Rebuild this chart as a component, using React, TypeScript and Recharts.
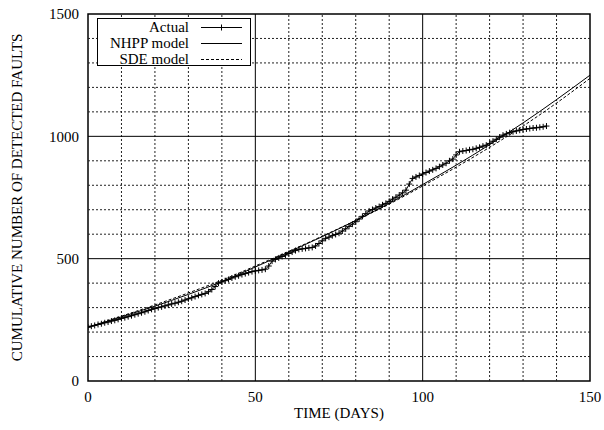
import React from 'react';
import {
  ComposedChart,
  Line,
  XAxis,
  YAxis,
  ReferenceLine,
  ReferenceArea,
  Legend,
} from 'recharts';

// Observed cumulative detected faults, one value per day starting at day 0
const actualValues: number[] = [
  220, 224, 227, 231, 234, 238, 241, 245, 248, 252,
  256, 259, 263, 267, 271, 275, 279, 283, 288, 293,
  296, 300, 303, 307, 311, 315, 318, 322, 326, 331,
  336, 340, 345, 350, 354, 358, 365, 374, 386, 400,
  405, 410, 415, 421, 426, 430, 435, 439, 443, 447,
  450, 452, 454, 457, 470, 490, 497, 503, 509, 515,
  521, 527, 533, 538, 540, 542, 544, 546, 552, 562,
  573, 583, 588, 594, 599, 604, 613, 622, 632, 641,
  651, 662, 673, 684, 695, 701, 707, 713, 720, 726,
  734, 743, 751, 760, 769, 780, 805, 828, 834, 840,
  846, 852, 858, 863, 869, 876, 883, 890, 900, 907,
  924, 937, 940, 942, 945, 947, 951, 955, 960, 964,
  971, 980, 988, 997, 1005, 1010, 1015, 1019, 1022, 1025,
  1028, 1030, 1032, 1034, 1035, 1037, 1039, 1042,
];

const modelDays: number[] = [0, 10, 20, 30, 40, 50, 60, 70, 80, 90, 100, 110, 120, 130, 140, 150];
const nhppValues: number[] = [220, 262, 306, 354, 406, 466, 527, 590, 656, 726, 803, 882, 966, 1055, 1150, 1250];
const sdeValues: number[] = [220, 265, 311, 360, 412, 470, 530, 592, 656, 723, 797, 874, 955, 1042, 1136, 1237];

const xTicks: number[] = [0, 50, 100, 150];
const yTicks: number[] = [0, 500, 1000, 1500];
const xMinorGrid: number[] = [10, 20, 30, 40, 60, 70, 80, 90, 110, 120, 130, 140];
const yMinorGrid: number[] = [100, 200, 300, 400, 600, 700, 800, 900, 1100, 1200, 1300, 1400];
const xMajorGrid: number[] = [50, 100];
const yMajorGrid: number[] = [500, 1000];

const seriesNames = ['Actual', 'NHPP model', 'SDE model'];

const actualData = actualValues.map((v, i) => ({ t: i, v }));
const nhppData = modelDays.map((t, i) => ({ t, v: nhppValues[i] }));
const sdeData = modelDays.map((t, i) => ({ t, v: sdeValues[i] }));

const FONT = "'Liberation Serif', 'Times New Roman', 'DejaVu Serif', serif";

const PlusDot = (props: any) => {
  const { cx, cy, index } = props;
  if (cx == null || cy == null) return <g key={`d${index}`} />;
  return (
    <path
      key={`d${index}`}
      d={`M${cx - 3},${cy}h6M${cx},${cy - 3}v6`}
      stroke="#000"
      strokeWidth={1}
      fill="none"
    />
  );
};

const LegendBox = () => {
  const rows = [
    { name: seriesNames[0], dash: undefined, plus: true },
    { name: seriesNames[1], dash: undefined, plus: false },
    { name: seriesNames[2], dash: '3 2', plus: false },
  ];
  return (
    <div
      style={{
        width: 152,
        height: 46,
        border: '1px solid #000',
        background: '#fff',
        fontFamily: FONT,
        fontSize: 15,
        color: '#000',
        boxSizing: 'content-box',
      }}
    >
      {rows.map((r, i) => (
        <div key={i} style={{ display: 'flex', alignItems: 'center', height: 16, lineHeight: '16px' }}>
          <span style={{ width: 91, textAlign: 'right', display: 'inline-block' }}>{r.name}</span>
          <svg width={61} height={16} style={{ display: 'block' }}>
            <line x1={12} x2={53} y1={8.5} y2={8.5} stroke="#000" strokeWidth={1} strokeDasharray={r.dash} />
            {r.plus && <path d="M32.5,5.5v6M29.5,8.5h6" stroke="#000" strokeWidth={1} />}
          </svg>
        </div>
      ))}
    </div>
  );
};

export default function App() {
  return (
    <div style={{ position: 'absolute', left: 0, top: 0, width: 604, height: 430, background: '#fff' }}>
      <ComposedChart
        width={604}
        height={430}
        margin={{ top: 14, right: 14, left: 0, bottom: 0 }}
      >
        <XAxis
          type="number"
          dataKey="t"
          domain={[0, 150]}
          ticks={xTicks}
          allowDataOverflow
          height={49}
          tickSize={0}
          tickMargin={10}
          axisLine={false}
          tickLine={false}
          tick={{ fill: '#000', fontFamily: FONT, fontSize: 15 }}
          label={{
            content: (p: any) => {
              const vb = p.viewBox;
              return (
                <text
                  x={vb.x + vb.width / 2}
                  y={vb.y + 37}
                  textAnchor="middle"
                  fontFamily={FONT}
                  fontSize={15}
                  fill="#000"
                >
                  TIME (DAYS)
                </text>
              );
            },
          }}
        />
        <YAxis
          type="number"
          dataKey="v"
          domain={[0, 1500]}
          ticks={yTicks}
          allowDataOverflow
          width={88}
          tickSize={0}
          tickMargin={9}
          axisLine={false}
          tickLine={false}
          tick={{ fill: '#000', fontFamily: FONT, fontSize: 15 }}
          label={{
            content: (p: any) => {
              const vb = p.viewBox;
              const cx = 22;
              const cy = vb.y + vb.height / 2;
              return (
                <text
                  x={cx}
                  y={cy}
                  textAnchor="middle"
                  transform={`rotate(-90 ${cx} ${cy})`}
                  fontFamily={FONT}
                  fontSize={15}
                  fill="#000"
                >
                  CUMULATIVE NUMBER OF DETECTED FAULTS
                </text>
              );
            },
          }}
        />
        {xMinorGrid.map((x) => (
          <ReferenceLine key={`xm${x}`} x={x} stroke="#222" strokeWidth={1} strokeDasharray="2 2" />
        ))}
        {yMinorGrid.map((y) => (
          <ReferenceLine key={`ym${y}`} y={y} stroke="#222" strokeWidth={1} strokeDasharray="2 2" />
        ))}
        {xMajorGrid.map((x) => (
          <ReferenceLine key={`xM${x}`} x={x} stroke="#000" strokeWidth={1} />
        ))}
        {yMajorGrid.map((y) => (
          <ReferenceLine key={`yM${y}`} y={y} stroke="#000" strokeWidth={1} />
        ))}
        <ReferenceArea x1={0} x2={150} y1={0} y2={1500} fill="none" stroke="#000" strokeWidth={1.5} />
        <Line
          data={sdeData}
          dataKey="v"
          name={seriesNames[2]}
          type="monotone"
          stroke="#000"
          strokeWidth={1}
          strokeDasharray="3 2"
          dot={false}
          isAnimationActive={false}
        />
        <Line
          data={nhppData}
          dataKey="v"
          name={seriesNames[1]}
          type="monotone"
          stroke="#000"
          strokeWidth={1}
          dot={false}
          isAnimationActive={false}
        />
        <Line
          data={actualData}
          dataKey="v"
          name={seriesNames[0]}
          type="linear"
          stroke="#000"
          strokeWidth={1}
          dot={PlusDot}
          isAnimationActive={false}
        />
        <Legend
          layout="vertical"
          align="center"
          verticalAlign="middle"
          content={() => <LegendBox />}
          wrapperStyle={{ position: 'absolute', left: 97, top: 18, width: 154, height: 48, margin: 0 }}
        />
      </ComposedChart>
    </div>
  );
}
